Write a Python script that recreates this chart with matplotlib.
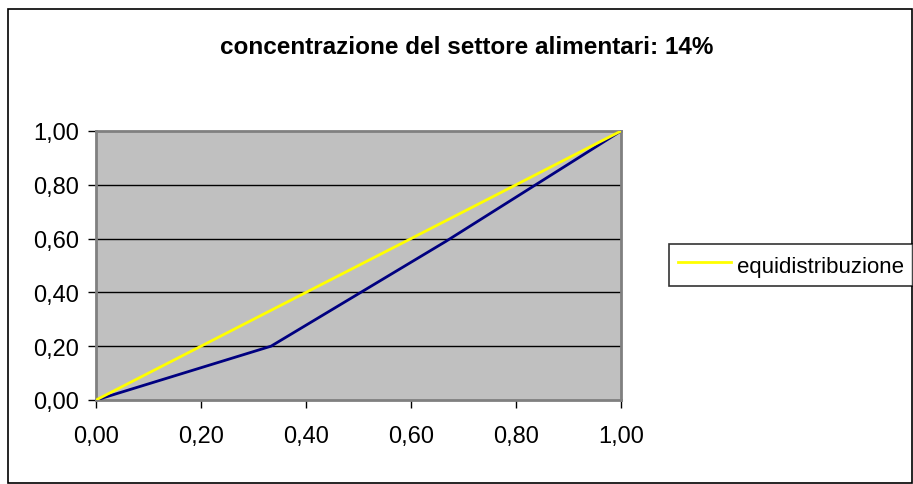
import matplotlib
matplotlib.use("Agg")
import matplotlib.pyplot as plt
from matplotlib.ticker import FuncFormatter
from matplotlib.patches import Rectangle

# Data
quota_x = [0.0, 1/3, 2/3, 1.0]
lorenz_y = [0.0, 0.20, 0.59, 1.00]
equi_x = [0.0, 1.0]
equi_y = [0.0, 1.0]
ticks = [0.0, 0.2, 0.4, 0.6, 0.8, 1.0]
title = "concentrazione del settore alimentari: 14%"
legend_label = "equidistribuzione"

plt.rcParams['font.family'] = ['Liberation Sans', 'DejaVu Sans']

W, H = 913, 485
fig = plt.figure(figsize=(W/100, H/100), dpi=100)
fig.patch.set_facecolor('white')

ax = fig.add_axes([96/W, 1-401/H, (621-96)/W, (401-132)/H])
ax.set_facecolor('#C0C0C0')

ax.plot(quota_x, lorenz_y, color='#000080', lw=2, solid_joinstyle='miter', zorder=3)
ln, = ax.plot(equi_x, equi_y, color='#FFFF00', lw=2, zorder=4, label=legend_label)

ax.set_xlim(0, 1)
ax.set_ylim(0, 1)
ax.set_xticks(ticks)
ax.set_yticks(ticks)
fmt = FuncFormatter(lambda v, p: f"{v:.2f}".replace('.', ','))
ax.xaxis.set_major_formatter(fmt)
ax.yaxis.set_major_formatter(fmt)
ax.tick_params(direction='out', length=6, width=1, color='black', labelsize=17,
               pad=6)
ax.tick_params(axis='x', pad=12)

for v in ticks[1:-1]:
    ax.axhline(v, color='black', lw=1, zorder=1)

for s in ['top', 'right', 'left', 'bottom']:
    ax.spines[s].set_color('#808080')
    ax.spines[s].set_linewidth(2)

fig.text(467/W, 1-47/H, title, ha='center', va='center', fontsize=17.5,
         fontweight='bold')

leg = fig.legend(handles=[ln], loc='center left',
                 bbox_to_anchor=(669/W, 1-266/H), fontsize=16,
                 frameon=True, fancybox=False, edgecolor='black',
                 handlelength=2.4, handleheight=1.35, handletextpad=0.27,
                 borderpad=0.4, borderaxespad=0)
leg.get_frame().set_linewidth(1.2)
leg.get_frame().set_facecolor('white')

# outer border
fig.patches.append(Rectangle((8/W, 1-484/H), (912-8)/W, (484-10)/H,
                             transform=fig.transFigure, fill=False,
                             edgecolor='black', lw=1.2))

fig.savefig('out.png', dpi=100)
